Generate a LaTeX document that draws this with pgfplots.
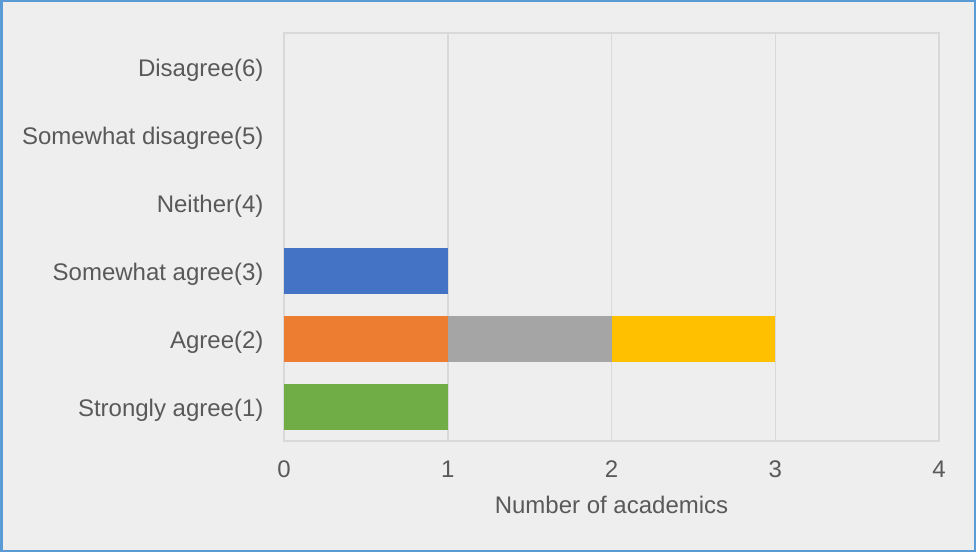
\documentclass[border=0pt]{standalone}
\usepackage{fontspec}
\setmainfont{Liberation Sans}
\usepackage{pgfplots}
\pgfplotsset{compat=1.18}
\definecolor{bgc}{HTML}{EEEEEE}
\definecolor{brd}{HTML}{5B9BD5}
\definecolor{gridc}{HTML}{D9D9D9}
\definecolor{txt}{HTML}{595959}
\definecolor{c1}{HTML}{4472C4}
\definecolor{c2}{HTML}{ED7D31}
\definecolor{c3}{HTML}{A5A5A5}
\definecolor{c4}{HTML}{FFC000}
\definecolor{c5}{HTML}{70AD47}
\begin{document}
\begin{tikzpicture}[x=1pt,y=1pt]
\fill[bgc] (0,0) rectangle (976,552);
\draw[brd, line width=2.5pt] (1.25,1.25) rectangle (974.75,550.75);
\begin{axis}[
  at={(284pt,111pt)}, anchor=south west,
  scale only axis, width=655pt, height=408pt,
  xmin=0, xmax=4, ymin=0.5, ymax=6.5,
  xbar stacked, bar width=46pt,
  xtick={0,1,2,3,4}, ytick={1,2,3,4,5,6},
  yticklabels={Strongly agree(1),Agree(2),Somewhat agree(3),Neither(4),Somewhat disagree(5),Disagree(6)},
  xmajorgrids, grid style={gridc, line width=1.5pt},
  axis line style={gridc, line width=1.5pt},
  major tick length=0,
  /pgf/number format/assume math mode=true,
  tick label style={font=\fontsize{24}{28}\selectfont, text=txt},
  xticklabel style={yshift=-16pt},
  yticklabel style={xshift=-17pt, yshift=-3pt},
  xlabel={Number of academics},
  xlabel style={font=\fontsize{24}{28}\selectfont, text=txt, at={(axis description cs:0.5,0)}, anchor=center, yshift=-64pt},
  every axis plot/.append style={draw=none},
]
\addplot[fill=c1, draw=none] coordinates {(0,1) (0,2) (1,3) (0,4) (0,5) (0,6)};
\addplot[fill=c2, draw=none] coordinates {(0,1) (1,2) (0,3) (0,4) (0,5) (0,6)};
\addplot[fill=c3, draw=none] coordinates {(0,1) (1,2) (0,3) (0,4) (0,5) (0,6)};
\addplot[fill=c4, draw=none] coordinates {(0,1) (1,2) (0,3) (0,4) (0,5) (0,6)};
\addplot[fill=c5, draw=none] coordinates {(1,1) (0,2) (0,3) (0,4) (0,5) (0,6)};
\end{axis}
\end{tikzpicture}
\end{document}
